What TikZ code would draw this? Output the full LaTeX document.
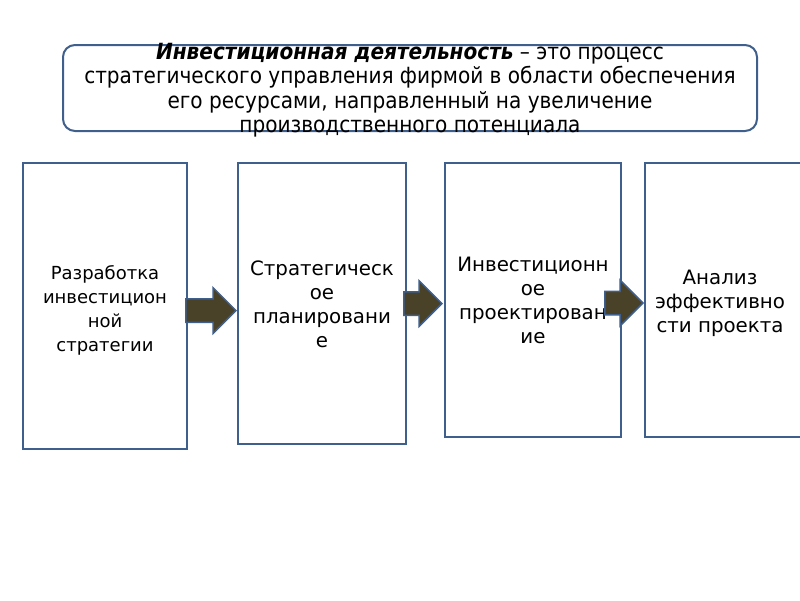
\documentclass[tikz,border=0pt]{standalone}
\usepackage{fontspec}
\setmainfont{DejaVu Sans}
\newfontfamily\condfont{DejaVu Sans Condensed}
\usetikzlibrary{shapes.arrows,calc}
\definecolor{frameblue}{HTML}{3F5F8C}
\definecolor{arrowbrown}{HTML}{4A4228}
\begin{document}
\begin{tikzpicture}[x=1pt, y=-1pt,
  stage/.style={rectangle, draw=frameblue, line width=2pt, fill=white, inner sep=0pt},
  stagetext/.style={font=\fontsize{19.8}{24}\selectfont, align=center, inner sep=0pt},
  defbox/.style={rectangle, rounded corners=12pt, draw=frameblue, line width=2pt, inner sep=0pt,
    minimum width=694pt, minimum height=86pt},
  deftextstyle/.style={align=center, inner sep=0pt, font=\condfont\fontsize{22.3}{24.5}\selectfont},
  barrow/.style={single arrow, draw=frameblue, line width=1.5pt, fill=arrowbrown, anchor=tip,
    inner xsep=0pt, inner ysep=11pt, single arrow head extend=11pt, single arrow head indent=0pt}
]
\useasboundingbox (0,0) rectangle (800,600);

% definition on top
\node[defbox] (def) at (410,88) {};
\node[deftextstyle] (deftext) at (def.center) [yshift=-2pt]
  {\textbf{\textit{Инвестиционная деятельность}} – это процесс\\
  стратегического управления фирмой в области обеспечения\\
  его ресурсами, направленный на увеличение\\
  производственного потенциала};

% four stages
\node[stage, minimum width=164pt, minimum height=286pt] (b1) at (105,306) {};
\node[stage, minimum width=168pt, minimum height=281pt] (b2) at (322,303.5) {};
\node[stage, minimum width=176pt, minimum height=274pt] (b3) at (533,300) {};
\node[stage, minimum width=170pt, minimum height=274pt] (b4) at (730,300) {};

\node[stagetext, font=\fontsize{18}{24}\selectfont] (t1) at (105,310) {Разработка\\инвестицион\\ной\\стратегии};
\node[stagetext] (t2) at (322,304) {Стратегическ\\ое\\планировани\\е};
\node[stagetext] (t3) at (533,300.5) {Инвестиционн\\ое\\проектирован\\ие};
\node[stagetext] (t4) at (720,303) {Анализ\\эффективно\\сти проекта};

% block arrows between stages
\node[barrow, minimum height=50pt, minimum width=45pt] (a1) at ($(b2.west)+(0,7)$) {};
\node[barrow, minimum height=38pt, minimum width=43pt] (a2) at ($(b3.west)+(-1,3.5)$) {};
\node[barrow, minimum height=38pt, minimum width=43pt] (a3) at ($(b4.west)+(0,3)$) {};
\end{tikzpicture}
\end{document}
